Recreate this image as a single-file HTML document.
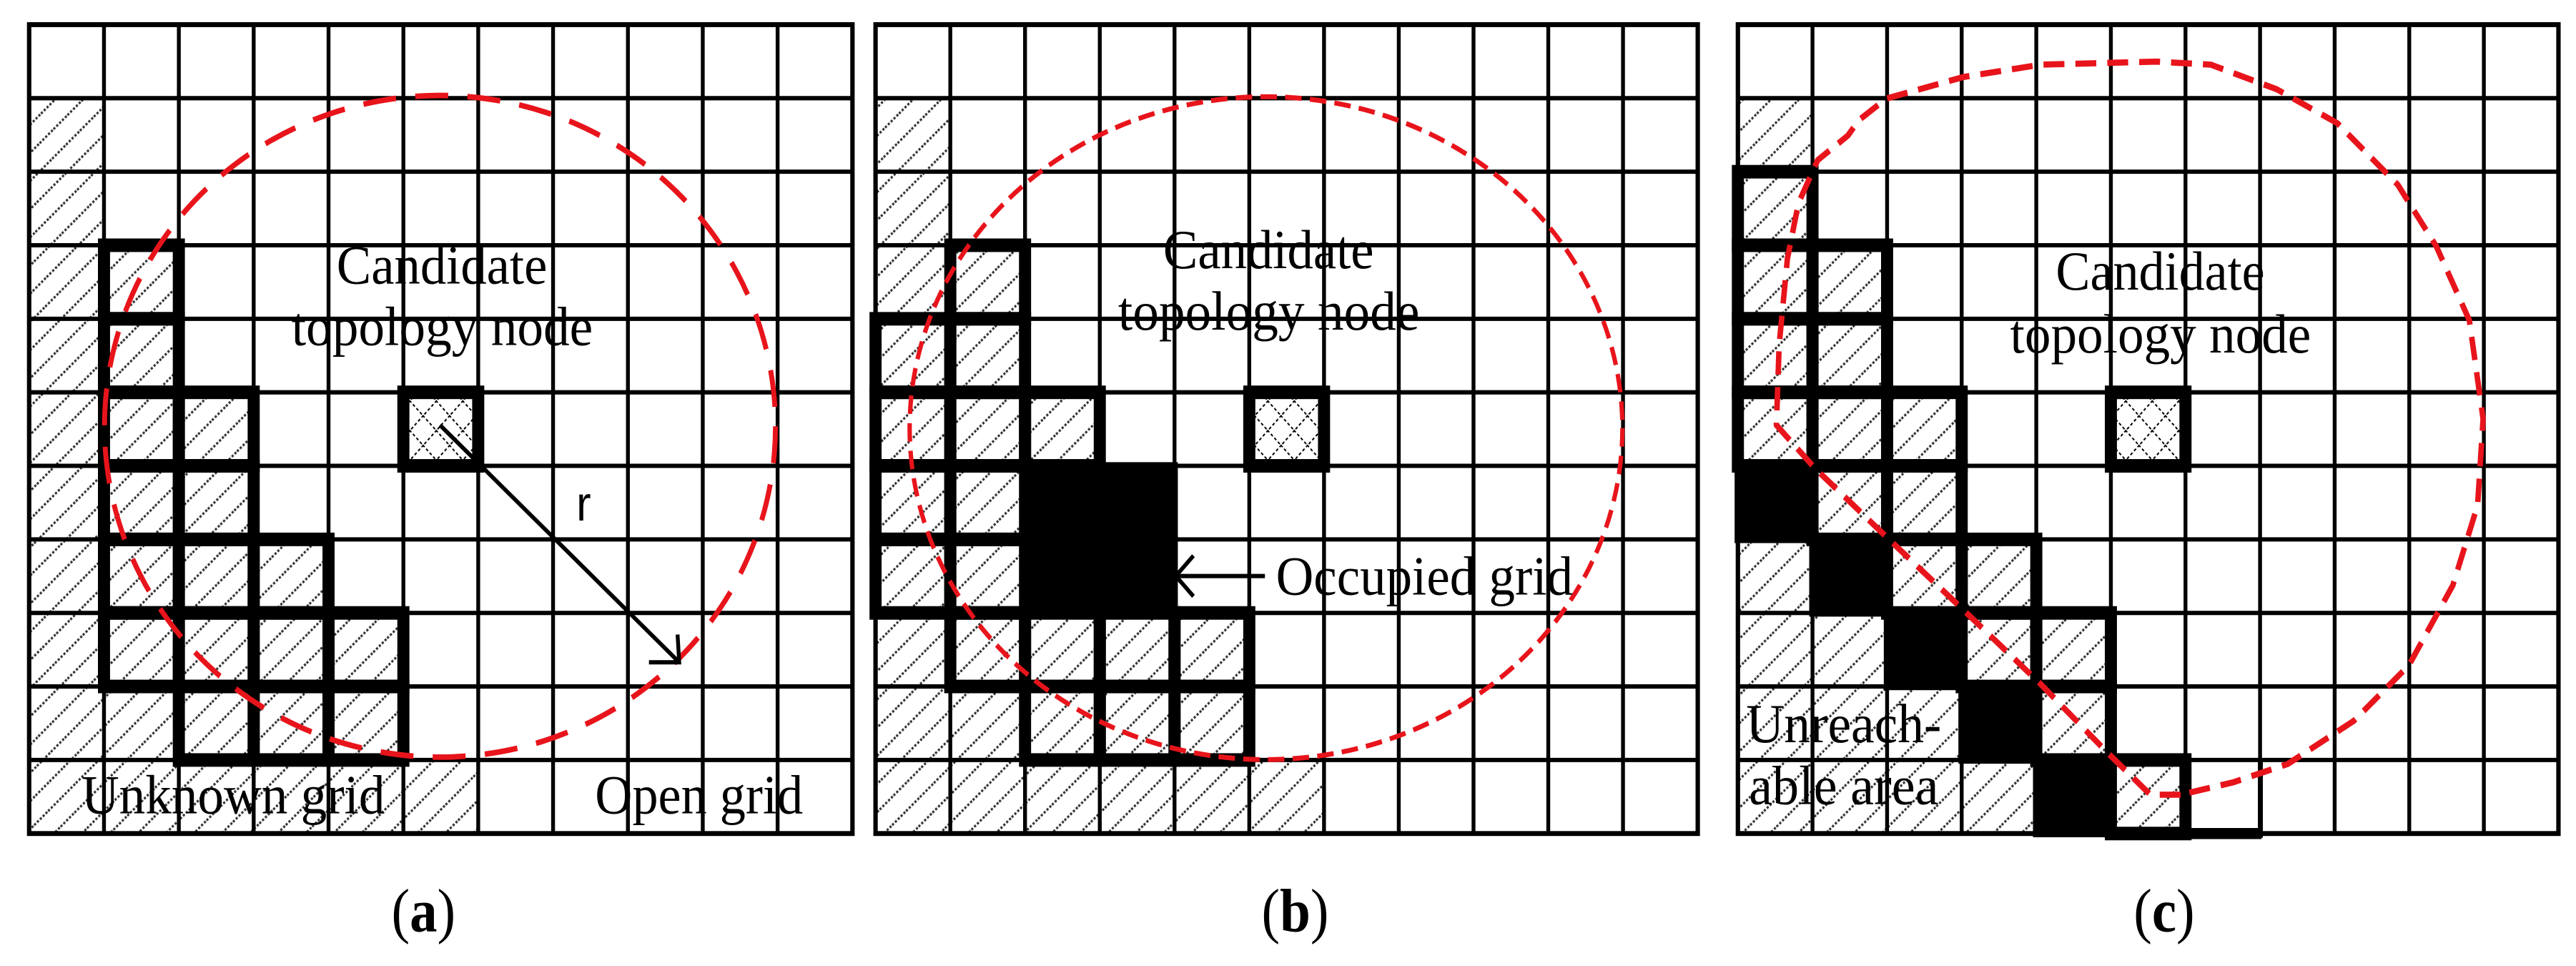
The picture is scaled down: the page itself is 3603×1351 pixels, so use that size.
<!DOCTYPE html>
<html><head><meta charset="utf-8"><style>html,body{margin:0;padding:0;background:#fff}svg{display:block}</style></head>
<body>
<svg id="s" xmlns="http://www.w3.org/2000/svg" width="3603" height="1351" viewBox="0 0 3603 1351">
<defs>
<pattern id="h" patternUnits="userSpaceOnUse" width="34" height="34" patternTransform="rotate(-42)">
<rect width="34" height="34" fill="#fff"/><line x1="0" y1="17" x2="34" y2="17" stroke="#333" stroke-width="4" stroke-dasharray="4 3"/></pattern>
<pattern id="x" patternUnits="userSpaceOnUse" width="34" height="34" patternTransform="rotate(45)">
<rect width="34" height="34" fill="#fff"/><line x1="0" y1="0" x2="34" y2="0" stroke="#000" stroke-width="5" stroke-dasharray="5 4"/><line x1="0" y1="0" x2="0" y2="34" stroke="#000" stroke-width="5" stroke-dasharray="5 4"/></pattern>
</defs>
<g id="ga" transform="scale(0.76923,0.8616)"></g>
<g id="gb" transform="translate(1200,0) scale(0.76923,0.8616)"></g>
<g id="gc" transform="translate(2400,0) scale(0.76923,0.8616)"></g>
<g transform="scale(0.76923,0.8616)" font-family="Liberation Serif, serif" font-size="90" fill="#000">
<text x="612" y="460" textLength="383" lengthAdjust="spacingAndGlyphs">Candidate</text>
<text x="530" y="560" textLength="548" lengthAdjust="spacingAndGlyphs">topology node</text>
<text x="148" y="1320" textLength="552" lengthAdjust="spacingAndGlyphs">Unknown grid</text>
<text x="1082" y="1320" textLength="378" lengthAdjust="spacingAndGlyphs">Open grid</text>
<text x="1048" y="845" font-family="Liberation Sans, sans-serif" font-size="80">r</text>
<text x="770" y="1512" text-anchor="middle" font-size="100">(<tspan font-weight="bold">a</tspan>)</text>
</g>
<g transform="translate(1200,0) scale(0.76923,0.8616)" font-family="Liberation Serif, serif" font-size="90" fill="#000">
<text x="555" y="435" textLength="383" lengthAdjust="spacingAndGlyphs">Candidate</text>
<text x="473" y="535" textLength="548" lengthAdjust="spacingAndGlyphs">topology node</text>
<text x="760" y="965" textLength="540" lengthAdjust="spacingAndGlyphs">Occupied grid</text>
<text x="795" y="1512" text-anchor="middle" font-size="100">(<tspan font-weight="bold">b</tspan>)</text>
</g>
<g transform="translate(2400,0) scale(0.76923,0.8616)" font-family="Liberation Serif, serif" font-size="90" fill="#000">
<text x="618" y="470" textLength="380" lengthAdjust="spacingAndGlyphs">Candidate</text>
<text x="535" y="572" textLength="547" lengthAdjust="spacingAndGlyphs">topology node</text>
<text x="55" y="1205" textLength="355" lengthAdjust="spacingAndGlyphs">Unreach-</text>
<text x="60" y="1305" textLength="345" lengthAdjust="spacingAndGlyphs">able area</text>
<text x="815" y="1512" text-anchor="middle" font-size="100">(<tspan font-weight="bold">c</tspan>)</text>
</g>
</svg>
<script>
var NS="http://www.w3.org/2000/svg";
function el(g,t,a){var e=document.createElementNS(NS,t);for(var k in a)e.setAttribute(k,a[k]);g.appendChild(e);return e;}
function panel(id,x0,x1,hatch,bold,black,extra){
 var g=document.getElementById(id),y0=40,y1=1353,cw=(x1-x0)/11,ch=(y1-y0)/11;
 function R(c,r){return {x:x0+c*cw,y:y0+r*ch,width:cw,height:ch};}
 hatch.forEach(function(p){var a=R(p[0],p[1]);a.fill="url(#h)";el(g,"rect",a);});
 var n=R(5,5);n.fill="url(#x)";el(g,"rect",n);
 for(var i=0;i<=11;i++){el(g,"line",{x1:x0+i*cw,y1:y0,x2:x0+i*cw,y2:y1,stroke:"#000","stroke-width":7});
  el(g,"line",{x1:x0,y1:y0+i*ch,x2:x1,y2:y0+i*ch,stroke:"#000","stroke-width":7});}
 black.forEach(function(p){var a=R(p[0],p[1]);a.x-=6;a.y-=6;a.width+=12;a.height+=12;a.fill="#000";el(g,"rect",a);});
 bold.concat([[5,5]]).forEach(function(p){var a=R(p[0],p[1]);a.fill="none";a.stroke="#000";a["stroke-width"]=22;el(g,"rect",a);});
 if(extra)extra(g,R);
 el(g,"rect",{x:x0,y:y0,width:x1-x0,height:y1-y0,fill:"none",stroke:"#000","stroke-width":8});
}
function rng(c,a,b){var o=[];for(var r=a;r<=b;r++)o.push([c,r]);return o;}
function row(r,a,b){var o=[];for(var c=a;c<=b;c++)o.push([c,r]);return o;}
var boldA=[[1,3],[1,4],[1,5],[2,5],[1,6],[2,6],[1,7],[2,7],[3,7],[1,8],[2,8],[3,8],[4,8],[2,9],[3,9],[4,9]];
panel("ga",53,1550,rng(0,1,10).concat(boldA,[[1,9]],row(10,0,5)),boldA,[],function(g){
 el(g,"ellipse",{cx:800,cy:692,rx:610,ry:537,fill:"none",stroke:"#e8141b","stroke-width":9,"stroke-dasharray":"60 35"});
 el(g,"line",{x1:800,y1:690,x2:1235,y2:1075,stroke:"#000","stroke-width":7});
 el(g,"polyline",{points:"1180,1075 1235,1075 1232,1030",fill:"none",stroke:"#000","stroke-width":7});
});
var boldB=[[1,3],[0,4],[1,4],[0,5],[1,5],[2,5],[0,6],[1,6],[0,7],[1,7],[1,8],[2,8],[3,8],[4,8],[2,9],[3,9],[4,9]];
panel("gb",32,1527,rng(0,1,10).concat(boldB,[[1,9]],row(10,0,5)),boldB,[[2,6],[3,6],[2,7],[3,7]],function(g){
 el(g,"ellipse",{cx:742,cy:695,rx:648,ry:538,fill:"none",stroke:"#e8141b","stroke-width":8,"stroke-dasharray":"30 15"});
 el(g,"line",{x1:740,y1:935,x2:578,y2:935,stroke:"#000","stroke-width":7});
 el(g,"polyline",{points:"610,902 578,935 610,968",fill:"none",stroke:"#000","stroke-width":7});
});
var boldC=[[0,2],[0,3],[1,3],[0,4],[1,4],[0,5],[1,5],[2,5],[1,6],[2,6],[2,7],[3,7],[3,8],[4,8],[4,9],[5,10]];
var hc=[[0,1],[0,7],[0,8],[1,8],[0,9],[1,9],[2,9],[0,10],[1,10],[2,10],[3,10]].concat(boldC);
panel("gc",40,1532,hc,boldC,[[0,6],[1,7],[2,8],[3,9],[4,10]],function(g){
 el(g,"line",{x1:855,y1:1353,x2:992,y2:1353,stroke:"#000","stroke-width":18});
 el(g,"line",{x1:990,y1:1235,x2:990,y2:1360,stroke:"#000","stroke-width":9});
 el(g,"polyline",{points:"845,1290 790,1290 710,1220 590,1110 450,990 320,880 180,760 110,690 115,560 130,420 150,330 185,260 240,220 260,195 310,160 450,125 590,105 800,100 900,105 1020,145 1130,200 1240,300 1310,400 1370,520 1395,680 1385,820 1340,950 1260,1080 1160,1170 1040,1240 940,1270 845,1290",
  fill:"none",stroke:"#e8141b","stroke-width":10,"stroke-dasharray":"38 20","stroke-linejoin":"round"});
});
</script>
</body></html>
